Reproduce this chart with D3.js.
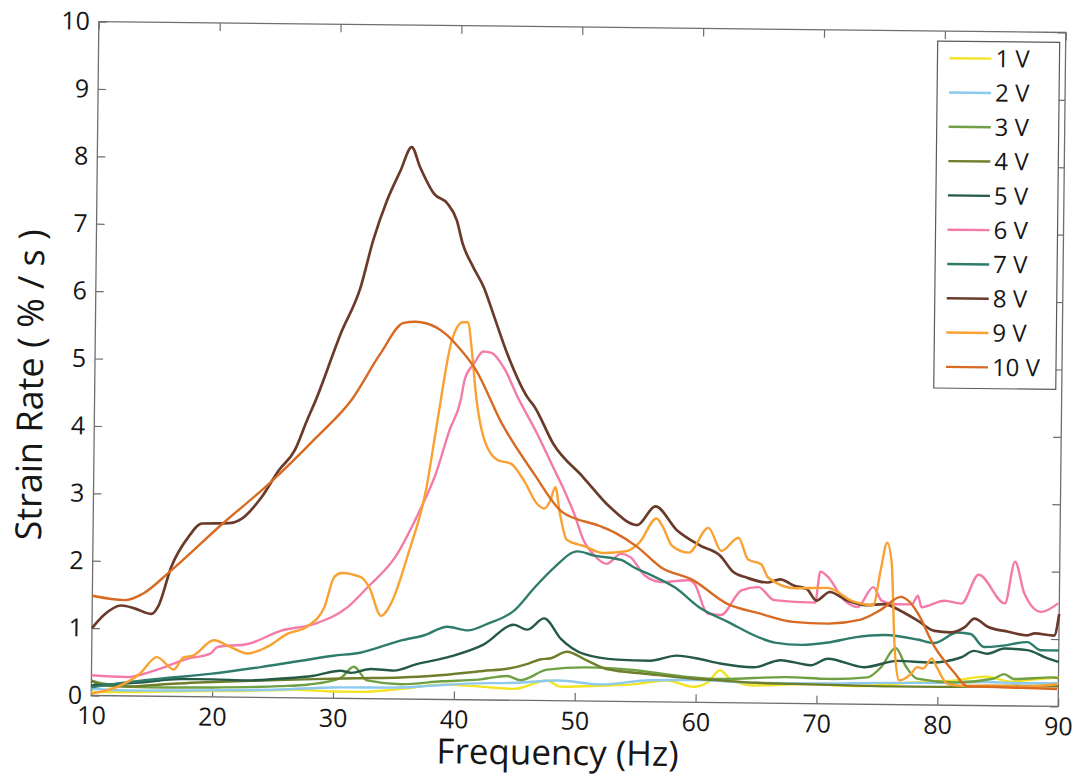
<!DOCTYPE html>
<html>
<head>
<meta charset="utf-8">
<script src="https://cdn.jsdelivr.net/npm/d3@7"></script>
<style>
  body { margin: 0; background: #fff; }
  svg text { font-family: "Open Sans", "Noto Sans", sans-serif; fill: #161616; }
</style>
</head>
<body>
<script>
// series labels and colours (legend order)
const voltages = ["1 V", "2 V", "3 V", "4 V", "5 V", "6 V", "7 V", "8 V", "9 V", "10 V"];
const colors = ["#f2e424", "#8ec9ef", "#6fa043", "#6e7f2c", "#245a46", "#f47ba9", "#2f7c6c", "#6a3b2b", "#f9a133", "#d86a22"];

const xTicks = [10, 20, 30, 40, 50, 60, 70, 80, 90];
const yTicks = [0, 1, 2, 3, 4, 5, 6, 7, 8, 9, 10];

// [frequency Hz, strain rate %/s]
const s1V = [[10,0.05],[14,0.06],[18,0.08],[22,0.09],[27,0.12],[30,0.1],[32.5,0.1],[35.6,0.15],[39.2,0.22],[42,0.2],[45,0.17],[47.7,0.3],[48.8,0.21],[52,0.23],[55,0.26],[57.6,0.32],[59.8,0.23],[61,0.3],[62,0.48],[62.8,0.36],[64.8,0.26],[68.9,0.29],[73.6,0.27],[76,0.3],[78.6,0.34],[81,0.36],[84.1,0.43],[86,0.36],[88,0.4],[90,0.43]];
const s2V = [[10,0.1],[13,0.08],[17.4,0.09],[21,0.1],[25.6,0.12],[30,0.16],[35.6,0.17],[38,0.2],[41.1,0.24],[45,0.26],[48.6,0.3],[52.1,0.25],[56.2,0.32],[60.3,0.33],[65,0.3],[70,0.3],[75,0.32],[80,0.33],[84,0.35],[87,0.34],[90,0.35]];
const s3V = [[10,0.22],[12,0.15],[14.6,0.13],[20,0.14],[25.6,0.17],[28,0.2],[30.6,0.3],[31.7,0.47],[32.8,0.27],[35.6,0.22],[39,0.27],[42,0.3],[44.4,0.36],[45.5,0.3],[47.7,0.46],[51,0.5],[54.8,0.47],[59,0.38],[62,0.35],[67.5,0.39],[71,0.37],[74.2,0.4],[75.3,0.55],[76.5,0.84],[77.4,0.56],[78.3,0.39],[81.3,0.34],[84.6,0.4],[85.5,0.47],[86.3,0.4],[89.6,0.43],[90,0.42]];
const s4V = [[10,0.22],[11,0.15],[13,0.14],[16,0.18],[20.1,0.22],[24,0.25],[28.4,0.28],[32,0.3],[35.6,0.32],[38.3,0.35],[42.4,0.43],[44.5,0.47],[46,0.54],[47.1,0.61],[48,0.63],[49.3,0.73],[51,0.6],[52.6,0.48],[56.2,0.41],[59.8,0.35],[62,0.33],[65,0.3],[68,0.29],[72,0.28],[76,0.27],[80,0.27],[84,0.29],[87,0.3],[90,0.3]];
const s5V = [[10,0.15],[11.8,0.17],[14,0.2],[17.4,0.26],[20,0.26],[22.9,0.25],[25.5,0.28],[28.4,0.33],[30.6,0.41],[31.5,0.38],[33.1,0.44],[35,0.42],[36.9,0.52],[39.7,0.64],[42.4,0.82],[44.9,1.12],[46,1.05],[47.4,1.22],[48.8,0.92],[50.7,0.7],[53.5,0.62],[56.2,0.61],[58.4,0.69],[60.4,0.64],[62,0.58],[64.8,0.53],[67,0.64],[69.5,0.57],[70.9,0.67],[73.9,0.55],[76.7,0.65],[79.4,0.63],[81.9,0.71],[83,0.81],[84.1,0.77],[85.5,0.85],[87.4,0.83],[89.1,0.71],[90,0.66]];
const s6V = [[10,0.3],[12.9,0.28],[15.2,0.38],[17.9,0.56],[19.8,0.64],[20.4,0.74],[22.9,0.79],[25.6,0.99],[28.4,1.1],[31.1,1.35],[32.8,1.66],[35,2.1],[36.9,2.76],[38.3,3.35],[39.4,4.0],[40.3,4.45],[40.6,4.75],[41.4,5.0],[42.1,5.17],[42.8,5.15],[43.9,4.91],[45,4.5],[46.7,3.94],[47.9,3.5],[49,3.1],[49.8,2.77],[50.6,2.38],[51.4,2.18],[52.5,2.04],[53.7,2.19],[54.5,2.14],[55.7,1.87],[57.1,1.78],[59.3,1.81],[59.8,1.76],[60.9,1.32],[62,1.3],[63.7,1.67],[65.1,1.72],[66.4,1.53],[69.8,1.5],[70.2,1.96],[70.8,1.89],[72.2,1.54],[73.3,1.44],[74.6,1.74],[75.3,1.54],[76.4,1.49],[77.8,1.49],[78.3,1.62],[78.6,1.45],[80.5,1.55],[81.9,1.51],[83.3,1.94],[85.5,1.52],[86.3,2.14],[87.1,1.67],[88.5,1.4],[89.9,1.53]];
const s7V = [[10,0.12],[12.9,0.2],[15.7,0.26],[19.8,0.34],[24,0.45],[27.3,0.55],[30,0.63],[32.2,0.68],[35.6,0.87],[37.5,0.95],[39.4,1.08],[41.1,1.03],[42.7,1.13],[44.9,1.33],[46.6,1.68],[48.2,1.98],[50.1,2.22],[51.5,2.16],[53.7,2.1],[54.8,1.99],[56.2,1.88],[58.2,1.7],[60.3,1.4],[62.6,1.2],[65.1,0.98],[66.5,0.9],[68.7,0.87],[70.9,0.91],[73.1,0.99],[75.6,1.03],[78.3,0.97],[79.7,0.92],[81.6,1.08],[82.7,1.06],[83.8,0.87],[85.2,0.89],[87.4,0.95],[88.5,0.83],[90,0.83]];
const s8V = [[10,1.0],[11,1.2],[12.4,1.34],[13.5,1.3],[14.9,1.22],[15.5,1.35],[16.5,1.92],[17.9,2.37],[19,2.57],[21.2,2.58],[22.3,2.65],[23.9,2.97],[25.3,3.37],[26.6,3.67],[27.6,4.12],[28.3,4.42],[30.3,5.41],[31.9,6.1],[32.9,6.8],[34,7.39],[35.1,7.84],[36,8.19],[36.7,7.9],[37.9,7.5],[39,7.36],[39.8,7.11],[40.3,6.77],[41.2,6.42],[42.1,6.12],[42.9,5.73],[44.1,5.14],[45.8,4.5],[46.4,4.36],[48,3.81],[50.5,3.32],[52.75,2.88],[55,2.62],[56.5,2.9],[58.3,2.55],[60.2,2.33],[61.9,2.18],[63,1.94],[64.1,1.86],[65.8,1.79],[66.9,1.84],[68,1.75],[69.1,1.7],[69.9,1.53],[71,1.66],[72.4,1.54],[74,1.47],[75.5,1.49],[76.9,1.39],[78.3,1.25],[79.7,1.1],[81,1.08],[82.2,1.16],[83,1.29],[84.1,1.17],[85.8,1.1],[87.4,1.05],[88,1.08],[89.6,1.05],[90,1.37]];
const s9V = [[10,0.03],[12,0.12],[14,0.33],[15.4,0.58],[16.8,0.4],[17.6,0.58],[18.4,0.61],[20.1,0.84],[21.5,0.74],[22.9,0.65],[24.5,0.75],[26.2,0.95],[27.8,1.06],[29.2,1.35],[30,1.8],[30.6,1.86],[32.2,1.8],[32.9,1.65],[33.9,1.23],[34.7,1.41],[36.1,2.16],[37.5,3.1],[38.4,4.15],[39.5,5.33],[40.4,5.6],[40.8,5.6],[41.2,5.13],[41.5,4.6],[42.3,3.85],[43.4,3.56],[44.5,3.51],[45.6,3.26],[46.7,2.92],[47.3,2.85],[47.8,2.97],[48.2,3.17],[48.6,2.78],[49.2,2.39],[50.8,2.29],[52.2,2.2],[54.1,2.23],[55.2,2.36],[56.6,2.72],[57.1,2.61],[57.9,2.32],[59.3,2.22],[60.9,2.59],[62,2.25],[63.4,2.45],[64.2,2.13],[65.3,2.06],[65.9,1.86],[68.1,1.71],[70.8,1.72],[73,1.52],[74.6,1.47],[75.2,2.0],[75.7,2.4],[76.1,2.1],[76.4,0.9],[76.8,0.36],[77.8,0.46],[78.3,0.56],[78.8,0.54],[79.5,0.69],[79.9,0.57],[80.8,0.32],[81.9,0.29],[84.1,0.3],[86.9,0.29],[89.9,0.33]];
const s10V = [[10,1.48],[12.7,1.42],[14.1,1.51],[16.5,1.87],[20.7,2.57],[24.5,3.17],[28.4,3.87],[31.3,4.44],[33.6,5.12],[35.5,5.58],[36.5,5.6],[38.2,5.52],[39,5.42],[40.1,5.22],[41.5,4.9],[43.7,4.11],[46.4,3.37],[48.8,2.8],[51.9,2.6],[53.2,2.5],[55,2.3],[57,2.0],[59.7,1.81],[62.5,1.47],[65.2,1.33],[68,1.21],[70.8,1.19],[73.5,1.25],[75.2,1.4],[76.9,1.6],[77.7,1.51],[78.3,1.36],[79.7,0.87],[81.4,0.48],[82.5,0.28],[84.1,0.28],[86.9,0.27],[89.9,0.26]];

const series = [s1V, s2V, s3V, s4V, s5V, s6V, s7V, s8V, s9V, s10V];

// layout
const margin = { top: 27, right: 11, bottom: 76, left: 95 };
const width = 1073 - margin.left - margin.right;
const height = 777 - margin.top - margin.bottom;

const svg = d3.select("body")
    .append("svg")
    .attr("width", 1073)
    .attr("height", 777);

// the scanned figure is tilted a little
const page = svg.append("g")
    .attr("transform", "rotate(0.65,578.5,364)");

const plot = page.append("g")
    .attr("transform", `translate(${margin.left},${margin.top})`);

const x = d3.scaleLinear().domain([10, 90]).range([0, width]);
const y = d3.scaleLinear().domain([0, 10]).range([height, 0]);

// axes, ticks pointing inward on every side
function styleAxis(sel) {
    sel.select(".domain").remove();
    sel.selectAll(".tick line").attr("stroke", "#6e6e6e").attr("stroke-width", 1.2);
    sel.selectAll("text").style("font-size", "25px");
}

plot.append("g")
    .attr("transform", `translate(0,${height})`)
    .call(d3.axisBottom(x).tickValues(xTicks).tickSize(-8).tickPadding(11))
    .call(styleAxis);

plot.append("g")
    .call(d3.axisTop(x).tickValues(xTicks).tickSize(-8).tickFormat(""))
    .call(styleAxis);

plot.append("g")
    .call(d3.axisLeft(y).tickValues(yTicks).tickSize(-8).tickPadding(9))
    .call(styleAxis);

plot.append("g")
    .attr("transform", `translate(${width},0)`)
    .call(d3.axisRight(y).tickValues(yTicks).tickSize(-8).tickFormat(""))
    .call(styleAxis);

plot.append("rect")
    .attr("width", width)
    .attr("height", height)
    .attr("fill", "none")
    .attr("stroke", "#6e6e6e")
    .attr("stroke-width", 1.3);

// lines
const line = d3.line()
    .x(d => x(d[0]))
    .y(d => y(d[1]))
    .curve(d3.curveMonotoneX);

plot.selectAll(".series")
    .data(series)
    .enter()
    .append("path")
    .attr("class", "series")
    .attr("d", line)
    .attr("fill", "none")
    .attr("stroke", (d, i) => colors[i])
    .attr("stroke-width", (d, i) => i === 7 ? 2.7 : 2.4)
    .attr("stroke-linejoin", "round");

// legend
const legend = page.append("g").attr("transform", "translate(934,37)");
legend.append("rect")
    .attr("width", 122)
    .attr("height", 347)
    .attr("fill", "#fff")
    .attr("stroke", "#5a5a5a")
    .attr("stroke-width", 1.2);

const item = legend.selectAll(".item")
    .data(voltages)
    .enter()
    .append("g")
    .attr("class", "item")
    .attr("transform", (d, i) => `translate(0,${17 + i * 34.3})`);

item.append("line")
    .attr("x1", 12).attr("x2", 54)
    .attr("stroke", (d, i) => colors[i])
    .attr("stroke-width", 2.4);

item.append("text")
    .attr("x", 58)
    .attr("y", 8.5)
    .style("font-size", "24px")
    .text(d => d);

// axis titles
page.append("text")
    .attr("x", 562)
    .attr("y", 765)
    .attr("text-anchor", "middle")
    .style("font-size", "35px")
    .text("Frequency (Hz)");

page.append("text")
    .attr("transform", "translate(43,391) rotate(-90)")
    .attr("text-anchor", "middle")
    .style("font-size", "36px")
    .text("Strain Rate ( % / s )");
</script>
</body>
</html>
